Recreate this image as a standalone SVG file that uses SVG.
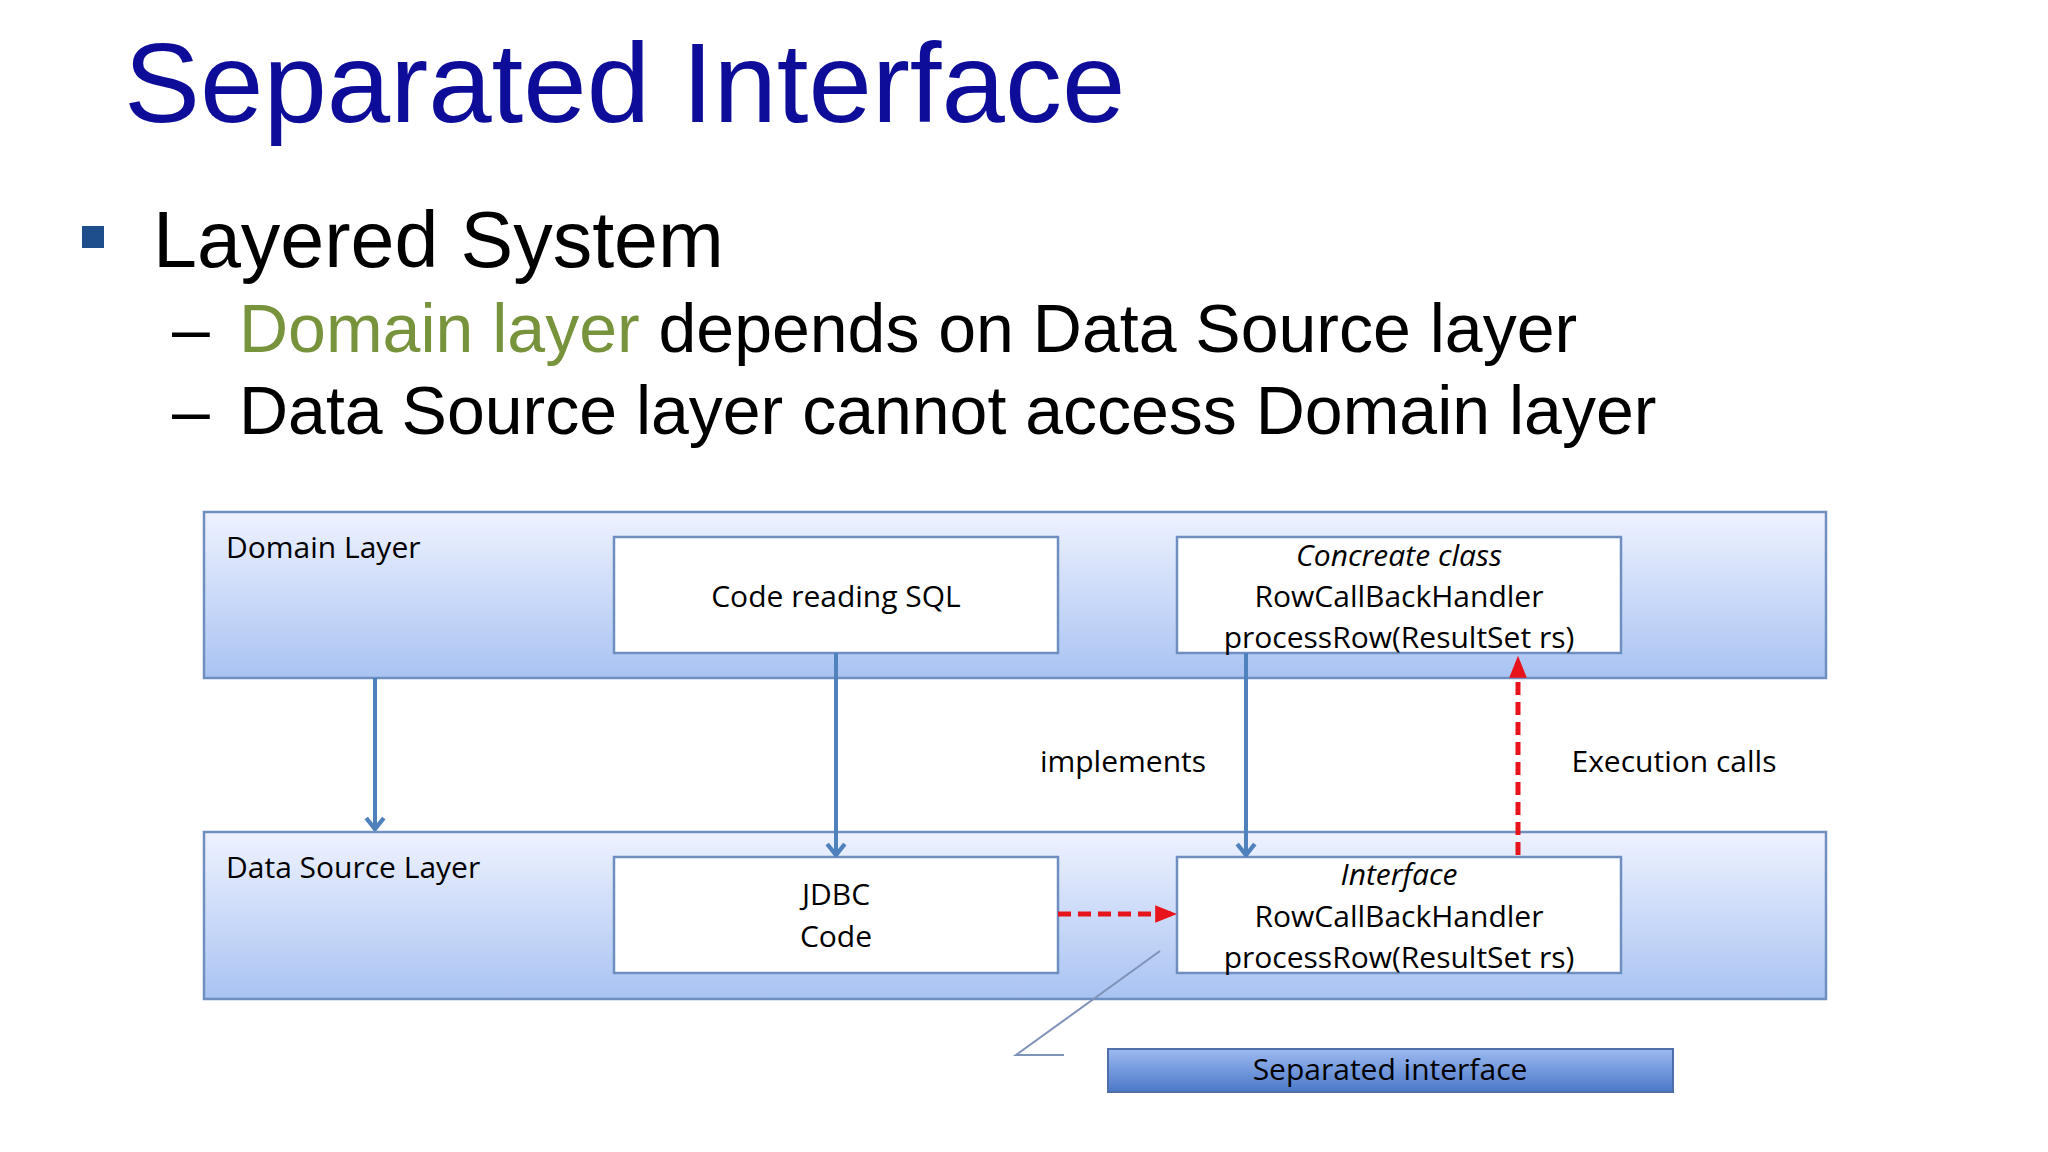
<svg xmlns="http://www.w3.org/2000/svg" width="2048" height="1152" viewBox="0 0 2048 1152">
<defs>
<style>
.h{font-family:"Liberation Sans",Arial,sans-serif}
.t{font-family:"Open Sans","Noto Sans",sans-serif;font-size:30px;fill:#000}
.m{text-anchor:middle}
.box{fill:#fff;stroke:#6f8fc0;stroke-width:2.5}
.layer{fill:url(#lg);stroke:#6f8fc0;stroke-width:2.5}
.blue{stroke:#4f81bd;stroke-width:4;fill:none}
.red{stroke:#e8141c;stroke-width:5;fill:none;stroke-dasharray:13 7}
</style>
<linearGradient id="lg" x1="0" y1="0" x2="0" y2="1"><stop offset="0" stop-color="#eef2ff"/><stop offset="1" stop-color="#a9c3f2"/></linearGradient>
<linearGradient id="bg" x1="0" y1="0" x2="0" y2="1"><stop offset="0" stop-color="#9dbaf0"/><stop offset="1" stop-color="#4a78c8"/></linearGradient>
<marker id="va" viewBox="0 0 20 20" refX="18" refY="10" markerWidth="22" markerHeight="22" markerUnits="userSpaceOnUse" orient="auto"><path d="M8,2 L18,10 L8,18" fill="none" stroke="#4f81bd" stroke-width="4"/></marker>
<marker id="ra" viewBox="0 0 20 20" refX="18" refY="10" markerWidth="22" markerHeight="22" markerUnits="userSpaceOnUse" orient="auto"><path d="M0,2 L20,10 L0,18 Z" fill="#e8141c"/></marker>
</defs>
<rect width="2048" height="1152" fill="#fff"/>
<text class="h" x="124" y="122" font-size="114" fill="#0d0d99">Separated Interface</text>
<rect x="82" y="226" width="22" height="22" fill="#1f4e8c"/>
<text class="h" x="153" y="267" font-size="79" fill="#000">Layered System</text>
<text class="h" x="172" y="352" font-size="68" fill="#000">–</text>
<text class="h" x="239" y="352" font-size="68" fill="#000"><tspan fill="#77933c">Domain layer</tspan> depends on Data Source layer</text>
<text class="h" x="172" y="434" font-size="68" fill="#000">–</text>
<text class="h" x="239" y="434" font-size="68" fill="#000">Data Source layer cannot access Domain layer</text>
<g id="domain"><rect class="layer" x="204" y="512" width="1622" height="166"/><text class="t" x="226" y="558" font-size="33">Domain Layer</text></g>
<g id="datasource"><rect class="layer" x="204" y="832" width="1622" height="167"/><text class="t" x="226" y="878" font-size="33">Data Source Layer</text></g>
<g id="sql"><rect class="box" x="614" y="537" width="444" height="116"/><text class="t m" x="836" y="607">Code reading SQL</text></g>
<g id="concrete"><rect class="box" x="1177" y="537" width="444" height="116"/><text class="t m" x="1399" y="566" font-style="italic">Concreate class</text><text class="t m" x="1399" y="607">RowCallBackHandler</text><text class="t m" x="1399" y="648">processRow(ResultSet rs)</text></g>
<g id="jdbc"><rect class="box" x="614" y="857" width="444" height="116"/><text class="t m" x="836" y="905">JDBC</text><text class="t m" x="836" y="947">Code</text></g>
<g id="iface"><rect class="box" x="1177" y="857" width="444" height="116"/><text class="t m" x="1399" y="885" font-style="italic">Interface</text><text class="t m" x="1399" y="927">RowCallBackHandler</text><text class="t m" x="1399" y="968">processRow(ResultSet rs)</text></g>
<g id="sep"><rect x="1108" y="1049" width="565" height="43" fill="url(#bg)" stroke="#4f6fa8" stroke-width="2"/><text class="t m" x="1390" y="1080">Separated interface</text></g>
<g id="connectors">
<path class="blue" d="M375,678 V829" marker-end="url(#va)"/>
<path class="blue" d="M836,653 V855" marker-end="url(#va)"/>
<path class="blue" d="M1246,653 V855" marker-end="url(#va)"/>
<path class="red" d="M1518,855 V658" marker-end="url(#ra)"/>
<path class="red" d="M1058,914 H1175" marker-end="url(#ra)"/>
<path d="M1160,951 L1016,1055 H1064" fill="none" stroke="#7f93b8" stroke-width="2"/>
<text class="t m" x="1123" y="772">implements</text>
<text class="t m" x="1674" y="772">Execution calls</text>
</g>
</svg>
